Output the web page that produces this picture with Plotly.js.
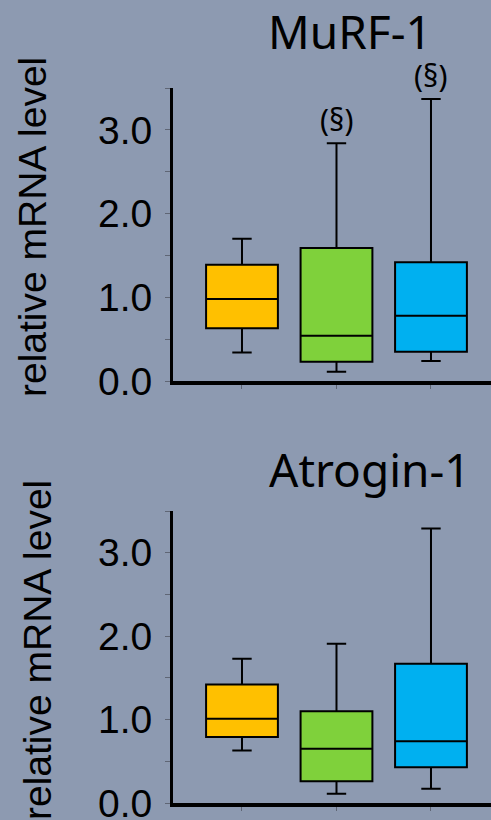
<!DOCTYPE html>
<html>
<head>
<meta charset="utf-8">
<script src="https://cdn.plot.ly/plotly-3.0.1.min.js"></script>
<style>html,body{margin:0;padding:0;background:#8D9AB1;}#chart{width:491px;height:820px;}</style>
</head>
<body>
<div id="chart"></div>
<script>
// Groups (no x labels shown in the original)
const groups = ['Group 1', 'Group 2', 'Group 3'];
const groupColors = ['#FFC000', '#7FD13B', '#00B0F0'];

// MuRF-1 box statistics
const murfLower  = [0.34, 0.11, 0.24];
const murfQ1     = [0.63, 0.23, 0.35];
const murfMedian = [0.98, 0.54, 0.78];
const murfQ3     = [1.39, 1.59, 1.42];
const murfUpper  = [1.70, 2.84, 3.37];
const murfMarks  = ['', '(§)', '(§)'];

// Atrogin-1 box statistics
const atroLower  = [0.63, 0.11, 0.17];
const atroQ1     = [0.79, 0.26, 0.43];
const atroMedian = [1.01, 0.65, 0.74];
const atroQ3     = [1.42, 1.10, 1.67];
const atroUpper  = [1.73, 1.91, 3.29];

const yTickVals = [0, 1, 2, 3];
const yTickText = ['0.0', '1.0', '2.0', '3.0'];

const traces = [];
function addBoxes(lower, q1, med, q3, upper, xa, ya) {
  groups.forEach((g, i) => {
    traces.push({
      type: 'box', x: [g], lowerfence: [lower[i]], q1: [q1[i]], median: [med[i]],
      q3: [q3[i]], upperfence: [upper[i]], xaxis: xa, yaxis: ya,
      fillcolor: groupColors[i], line: {color: '#000', width: 2},
      width: 0.76, whiskerwidth: 0.27, boxpoints: false, showlegend: false,
      hoverinfo: 'skip'
    });
  });
}
addBoxes(murfLower, murfQ1, murfMedian, murfQ3, murfUpper, 'x', 'y');
addBoxes(atroLower, atroQ1, atroMedian, atroQ3, atroUpper, 'x2', 'y2');

const tickGray = '#5f6675';
function yAxis(domain, anchor) {
  return {
    domain: domain, anchor: anchor, range: [0, 3.5], showgrid: false, zeroline: false,
    showline: true, linecolor: '#000', linewidth: 3,
    tickmode: 'array', tickvals: yTickVals, ticktext: yTickText,
    ticks: 'outside', ticklen: 5, tickwidth: 1, tickcolor: tickGray,
    minor: {dtick: 0.5, ticks: 'outside', ticklen: 5, tickwidth: 1, tickcolor: tickGray, showgrid: false},
    tickfont: {family: 'Liberation Sans, Arial, sans-serif', size: 39, color: '#000'},
    ticklabelstandoff: 5, ticklabeloverflow: 'allow', fixedrange: true
  };
}
function xAxis(anchor) {
  return {
    domain: [173/491, 1], anchor: anchor, type: 'category', categoryarray: groups,
    range: [-0.73, 2.635], showgrid: false, zeroline: false,
    showline: true, linecolor: '#000', linewidth: 4,
    ticks: 'outside', ticklen: 4, tickwidth: 1, tickcolor: tickGray,
    showticklabels: false, fixedrange: true
  };
}

const titleFont = {family: 'Noto Sans, sans-serif', size: 46, color: '#000'};
const axisTitleFont = {family: 'Liberation Sans, Arial, sans-serif', size: 39, color: '#000'};
const markFont = {family: 'Noto Sans, sans-serif', size: 30, color: '#000'};

const annotations = [
  {text: 'MuRF-1', xref: 'paper', yref: 'paper', x: 350/491, y: 1 - 31/820, xanchor: 'center', yanchor: 'middle', showarrow: false, font: titleFont},
  {text: 'Atrogin-1', xref: 'paper', yref: 'paper', x: 370/491, y: 1 - 469/820, xanchor: 'center', yanchor: 'middle', showarrow: false, font: titleFont},
  {text: 'relative mRNA level', xref: 'paper', yref: 'paper', x: 32/491, y: 1 - 227/820, textangle: -90, xanchor: 'center', yanchor: 'middle', showarrow: false, font: axisTitleFont},
  {text: 'relative mRNA level', xref: 'paper', yref: 'paper', x: 37/491, y: 1 - 650/820, textangle: -90, xanchor: 'center', yanchor: 'middle', showarrow: false, font: axisTitleFont}
];
groups.forEach((g, i) => {
  if (murfMarks[i]) {
    annotations.push({text: murfMarks[i], xref: 'x', yref: 'y', x: g, y: murfUpper[i],
      xanchor: 'center', yanchor: 'bottom', yshift: 1, showarrow: false, font: markFont});
  }
});

const layout = {
  width: 491, height: 820, margin: {l: 0, r: 0, t: 0, b: 0},
  paper_bgcolor: '#8D9AB1', plot_bgcolor: '#8D9AB1',
  boxmode: 'overlay', showlegend: false,
  xaxis: xAxis('y'), yaxis: yAxis([1 - 381/820, 1 - 88/820], 'x'),
  xaxis2: xAxis('y2'), yaxis2: yAxis([1 - 803/820, 1 - 511/820], 'x2'),
  annotations: annotations
};

Plotly.newPlot('chart', traces, layout, {displayModeBar: false, staticPlot: true});
</script>
</body>
</html>
